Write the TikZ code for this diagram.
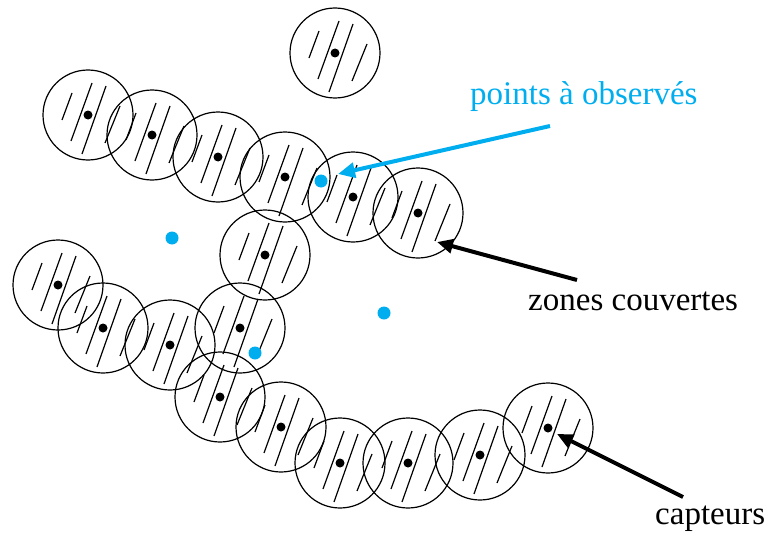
\documentclass[tikz,border=0pt]{standalone}
\usepackage{fontspec}
\setmainfont{Liberation Serif}
\usetikzlibrary{arrows.meta}
\definecolor{obsblue}{RGB}{0, 174, 239}

\begin{document}
\begin{tikzpicture}[x=1pt, y=-1pt,
    zone/.style={circle, draw, line width=1.2pt, minimum size=90pt, inner sep=0pt,
        path picture={
            \draw[line width=1.2pt] ([shift={(-26,5)}]path picture bounding box.center) -- ++(10,-27);
            \draw[line width=1.2pt] ([shift={(-17,26)}]path picture bounding box.center) -- ++(21,-58);
            \draw[line width=1.2pt] ([shift={(-6,39)}]path picture bounding box.center) -- ++(24,-68);
            \draw[line width=1.2pt] ([shift={(17,28)}]path picture bounding box.center) -- ++(15,-37);
            \fill (path picture bounding box.center) circle (4.5pt);
        }},
    obspoint/.style={circle, fill=obsblue, minimum size=13pt, inner sep=0pt},
    label/.style={font=\fontsize{33}{36}\selectfont, inner sep=0pt, anchor=base west}]
    \useasboundingbox (0,0) rectangle (767,532);

    % capteurs et zones couvertes
    \foreach \name/\pos in {s1/{(335,53)}, s2/{(88,115)}, s3/{(152,135)}, s4/{(218,157)},
        s5/{(285,177)}, s6/{(353,197)}, s7/{(418,213)}, s8/{(265,255)},
        s9/{(58,285)}, s10/{(103,328)}, s11/{(170,345)}, s12/{(240,328)},
        s13/{(220,397)}, s14/{(281,427)}, s15/{(340,463)}, s16/{(408,463)},
        s17/{(480,455)}, s18/{(548,428)}}
        \node[zone] (\name) at \pos {};

    % points a observer
    \node[obspoint] (p1) at (321,181) {};
    \node[obspoint] (p2) at (172,238) {};
    \node[obspoint] (p3) at (384,313) {};
    \node[obspoint] (p4) at (255,353) {};

    % legendes
    \node[label, text=obsblue] (lblpts) at (470,104) {points à observés};
    \node[label] (lblzones) at (528,310) {zones couvertes};
    \node[label] (lblcapt) at (655,524) {capteurs};

    \coordinate (tailpts) at (550,126);
    \coordinate (tippts) at (338,174);
    \coordinate (tailzones) at (577,280);
    \coordinate (tipzones) at (437,242);
    \coordinate (tailcapt) at (683,497);
    \coordinate (tipcapt) at (557,434);

    \draw[-{Triangle[length=17pt, width=15pt]}, obsblue, line width=4pt] (tailpts) -- (tippts);
    \draw[-{Triangle[length=16pt, width=14pt]}, line width=4pt] (tailzones) -- (tipzones);
    \draw[-{Triangle[length=16pt, width=14pt]}, line width=4pt] (tailcapt) -- (tipcapt);
\end{tikzpicture}
\end{document}
